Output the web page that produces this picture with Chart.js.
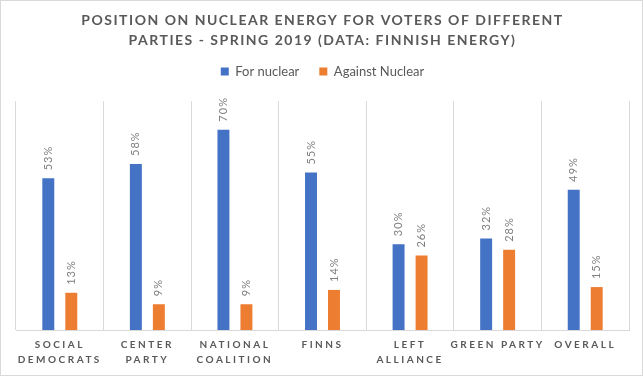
<!DOCTYPE html>
<html>
<head>
<meta charset="utf-8">
<script src="https://cdn.jsdelivr.net/npm/chart.js@4.4.1/dist/chart.umd.min.js"></script>
<style>
	html, body { margin: 0; padding: 0; background: #fff; }
	#wrap { width: 643px; height: 376px; box-sizing: border-box; border: 1px solid #d9d9d9; }
	canvas { display: block; }
</style>
</head>
<body>
<div id="wrap"><canvas id="myChart" width="641" height="374"></canvas></div>
<script>
const titleLines = ['POSITION ON NUCLEAR ENERGY FOR VOTERS OF DIFFERENT', 'PARTIES - SPRING 2019 (DATA: FINNISH ENERGY)'];
const parties = [['SOCIAL', 'DEMOCRATS'], ['CENTER', 'PARTY'], ['NATIONAL', 'COALITION'], 'FINNS', ['LEFT', 'ALLIANCE'], 'GREEN PARTY', 'OVERALL'];
const forNuclear = [53, 58, 70, 55, 30, 32, 49];
const againstNuclear = [13, 9, 9, 14, 26, 28, 15];

const textColor = '#595959';
const gridColor = '#d9d9d9';

Chart.defaults.font.family = 'Lato, "Liberation Sans", sans-serif';

// value labels above the bars, rotated like in Excel
const valueLabels = {
	id: 'valueLabels',
	beforeInit(chart) {
		// a bit more room under the legend
		const fit = chart.legend.fit;
		chart.legend.fit = function() {
			fit.call(this);
			this.height += 13;
		};
	},
	afterDatasetsDraw(chart) {
		const ctx = chart.ctx;
		ctx.save();
		ctx.font = '11px Lato';
		ctx.fillStyle = '#808080';
		ctx.letterSpacing = '1px';
		ctx.textAlign = 'left';
		ctx.textBaseline = 'middle';
		chart.data.datasets.forEach((ds, i) => {
			chart.getDatasetMeta(i).data.forEach((bar, j) => {
				ctx.save();
				ctx.translate(bar.x, bar.y - 8);
				ctx.rotate(-Math.PI / 2);
				ctx.fillText(ds.data[j] + '%', 0, 0);
				ctx.restore();
			});
		});
		ctx.restore();
		// tick labels are drawn after this (ticks.z = 1), give them spacing
		ctx.letterSpacing = '2.5px';
	},
	afterDraw(chart) {
		const ctx = chart.ctx;
		ctx.letterSpacing = '0px';
		ctx.save();
		ctx.font = 'bold 14px Lato';
		ctx.letterSpacing = '1.5px';
		ctx.fillStyle = textColor;
		ctx.textAlign = 'center';
		ctx.textBaseline = 'middle';
		titleLines.forEach((line, i) => {
			ctx.fillText(line, chart.width / 2 + 1, 19 + i * 20);
		});
		ctx.restore();
	}
};

const ctx = document.getElementById('myChart');

const myChart = new Chart(ctx, {
	type: 'bar',
	data: {
		labels: parties,
		datasets: [{
			label: 'For nuclear',
			data: forNuclear,
			backgroundColor: '#4472c4',
			categoryPercentage: 0.525,
			barPercentage: 0.52
		}, {
			label: 'Against Nuclear',
			data: againstNuclear,
			backgroundColor: '#ed7d31',
			categoryPercentage: 0.525,
			barPercentage: 0.52
		}]
	},
	options: {
		responsive: false,
		animation: false,
		layout: { padding: { top: 44, left: 15, right: 13, bottom: 0 } },
		plugins: {
			title: { display: false },
			tooltip: { enabled: false },
			legend: {
				position: 'top',
				labels: {
					color: textColor,
					font: { size: 13 },
					boxWidth: 8,
					boxHeight: 8,
					padding: 20
				}
			}
		},
		scales: {
			x: {
				grid: { color: gridColor, drawTicks: false },
				border: { color: gridColor },
				ticks: {
					z: 1,
					color: textColor,
					font: { size: 10, weight: 'bold', lineHeight: '15px' },
					padding: 7,
					maxRotation: 0,
					autoSkip: false
				},
				afterFit(scale) { scale.height = 45; }
			},
			y: {
				display: false,
				min: 0,
				max: 80
			}
		}
	},
	plugins: [valueLabels]
});
</script>
</body>
</html>
